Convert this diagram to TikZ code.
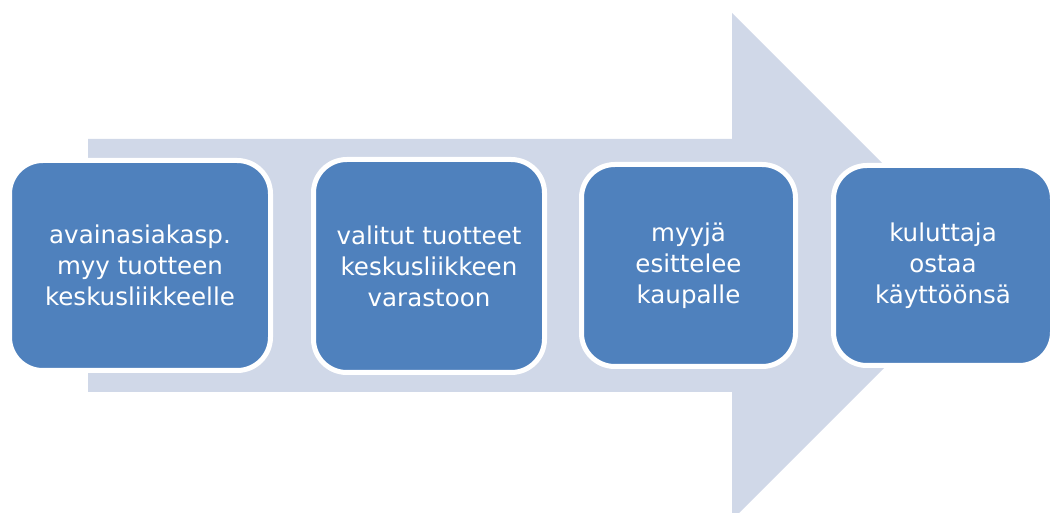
\documentclass[tikz,border=0pt]{standalone}
\usepackage{fontspec}
\setmainfont{DejaVu Sans}
\definecolor{arrowfill}{RGB}{208,216,232}
\definecolor{boxfill}{RGB}{79,129,189}
\tikzset{
  stepbox/.style={draw=white, line width=3.75pt, fill=boxfill, rounded corners=25pt,
    text=white, align=center, font=\fontsize{18.4}{23.25}\selectfont, inner sep=0pt},
}
\begin{document}
\begin{tikzpicture}[x=0.75pt,y=-0.75pt]
\useasboundingbox (0,0) rectangle (1051,513);
\fill[arrowfill] (88,139) -- (732,139) -- (732,13) -- (985.5,266.5) -- (732,520) -- (732,392) -- (88,392) -- cycle;
\node[stepbox, minimum width=261*0.75pt, minimum height=210*0.75pt] (b1) at (140,265.5) {avainasiakasp.\\myy tuotteen\\keskusliikkeelle};
\node[stepbox, minimum width=231*0.75pt, minimum height=213*0.75pt] (b2) at (429,266) {valitut tuotteet\\keskusliikkeen\\varastoon};
\node[stepbox, minimum width=214*0.75pt, minimum height=202*0.75pt] (b3) at (688.5,265.5) {myyjä\\esittelee\\kaupalle};
\node[stepbox, minimum width=219*0.75pt, minimum height=200*0.75pt] (b4) at (943,265.5) {kuluttaja\\ostaa\\käyttöönsä};
\end{tikzpicture}
\end{document}
